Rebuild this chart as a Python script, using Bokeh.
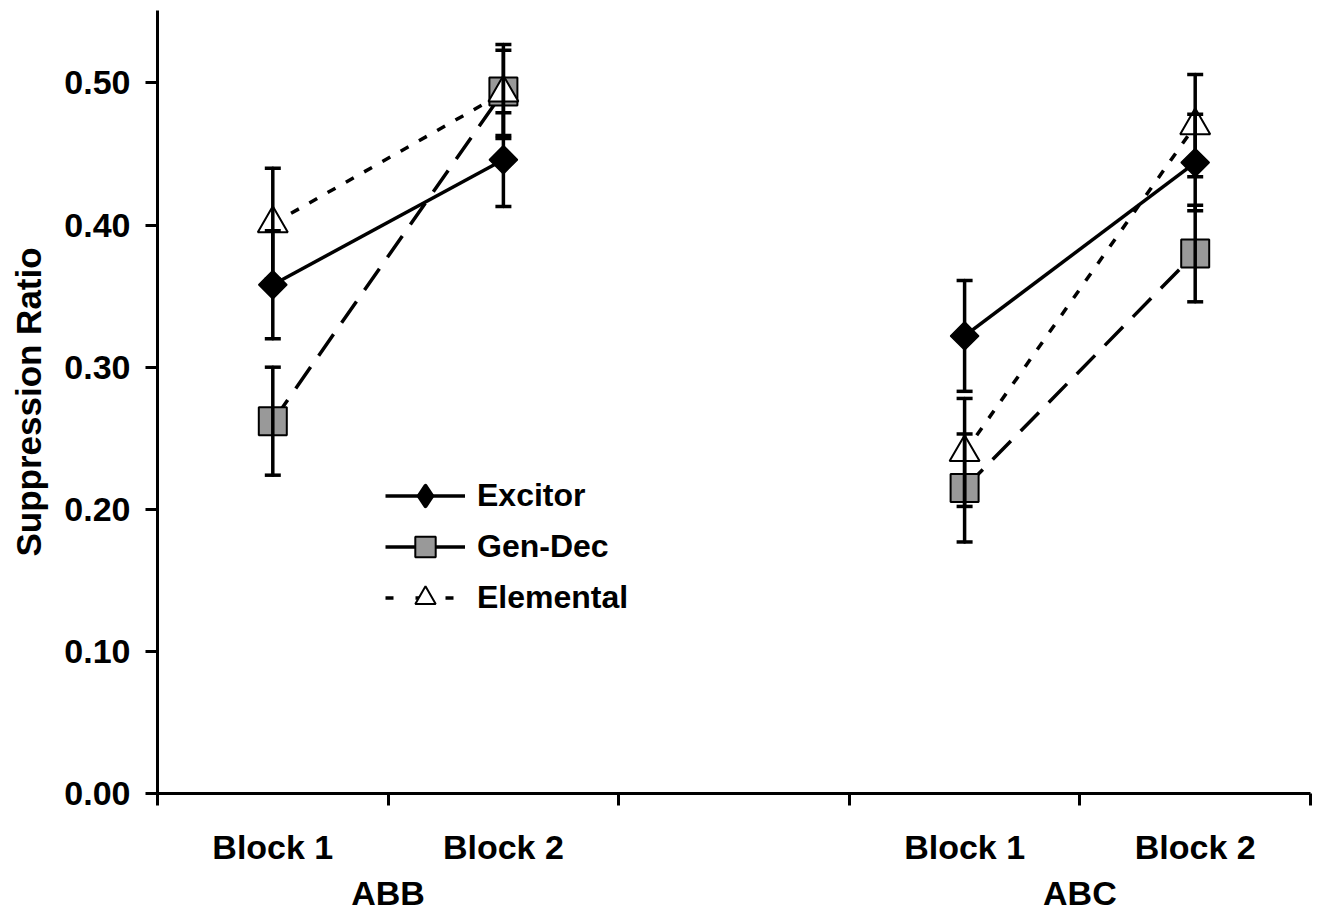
import math
from bokeh.plotting import figure
from bokeh.models import (Range1d, LinearAxis, FixedTicker, NumeralTickFormatter,
                          ColumnDataSource, Whisker, TeeHead, Legend, LegendItem)
from bokeh.embed import file_html
from bokeh.resources import INLINE

# ---------------- data ----------------
conditions = ["ABB", "ABC"]
blocks = ["Block 1", "Block 2"]
y_ticks = [0.0, 0.1, 0.2, 0.3, 0.4, 0.5]

# order: ABB Block 1, ABB Block 2, ABC Block 1, ABC Block 2
excitor = [0.358, 0.446, 0.322, 0.444]
excitor_err = [0.038, 0.033, 0.039, 0.034]
gendec = [0.262, 0.494, 0.215, 0.380]
gendec_err = [0.038, 0.033, 0.038, 0.034]
elemental = [0.401, 0.493, 0.240, 0.470]
elemental_err = [0.039, 0.030, 0.038, 0.036]

FONT = "Liberation Sans"
TXT = "34px"

# slot positions: one empty slot between the two conditions
nb = len(blocks)
xs = [ci * (nb + 1) + bi + 0.5 for ci in range(len(conditions)) for bi in range(nb)]
tick_labels = [b for _ in conditions for b in blocks]
group_centers = [ci * (nb + 1) + nb / 2 for ci in range(len(conditions))]
n_slots = len(conditions) * (nb + 1) - 1

p = figure(width=1320, height=915, x_range=Range1d(0, n_slots), y_range=Range1d(0, 0.551),
           output_backend="svg", toolbar_location=None,
           x_axis_type=None, y_axis_type=None,
           min_border_left=157, min_border_right=10, min_border_top=10, min_border_bottom=122)
p.outline_line_color = None
p.background_fill_color = "white"
p.border_fill_color = "white"

# ---------------- axes ----------------
yaxis = LinearAxis(ticker=FixedTicker(ticks=y_ticks, minor_ticks=[]),
                   formatter=NumeralTickFormatter(format="0.00"),
                   axis_label="Suppression Ratio")
yaxis.axis_line_width = 3
yaxis.axis_line_color = "black"
yaxis.major_tick_line_width = 3
yaxis.major_tick_line_color = "black"
yaxis.major_tick_out = 12
yaxis.major_tick_in = 0
yaxis.minor_tick_line_color = None
yaxis.major_label_standoff = 15
yaxis.major_label_text_font = FONT
yaxis.major_label_text_font_style = "bold"
yaxis.major_label_text_font_size = TXT
yaxis.major_label_text_color = "black"
yaxis.axis_label_text_font = FONT
yaxis.axis_label_text_font_style = "bold"
yaxis.axis_label_text_font_size = "35px"
yaxis.axis_label_text_color = "black"
yaxis.axis_label_standoff = 13
p.add_layout(yaxis, "left")

# block labels under each point, condition labels (second line) under each group
label_map = {float(x): lab for x, lab in zip(xs, tick_labels)}
label_map.update({float(g): "\n" + c for g, c in zip(group_centers, conditions)})
xaxis = LinearAxis(ticker=FixedTicker(ticks=sorted(xs + group_centers),
                                      minor_ticks=list(range(n_slots + 1))),
                   major_label_overrides=label_map)
xaxis.axis_line_width = 3
xaxis.axis_line_color = "black"
xaxis.major_tick_line_color = None
xaxis.major_tick_out = 0
xaxis.major_tick_in = 0
xaxis.minor_tick_line_color = "black"
xaxis.minor_tick_line_width = 3
xaxis.minor_tick_out = 12
xaxis.minor_tick_in = 0
xaxis.major_label_standoff = 22
xaxis.major_label_text_font = FONT
xaxis.major_label_text_font_style = "bold"
xaxis.major_label_text_font_size = TXT
xaxis.major_label_text_color = "black"
xaxis.major_label_text_line_height = 1.23
p.add_layout(xaxis, "below")

# ---------------- series ----------------
series = [
    ("Excitor", excitor, excitor_err, dict(marker="square", size=20, angle=math.pi / 4,
                                           fill_color="black", line_color="black", line_width=1.5), "solid"),
    ("Gen-Dec", gendec, gendec_err, dict(marker="square", size=28, angle=0,
                                         fill_color="#999999", line_color="black", line_width=2), "26 14"),
    ("Elemental", elemental, elemental_err, dict(marker="triangle", size=30, angle=0,
                                                 fill_color="white", line_color="black", line_width=2), "9 12"),
]

# connecting lines (within each condition only)
for name, vals, errs, mk, dash in series:
    gx = [[xs[ci * nb + bi] for bi in range(nb)] for ci in range(len(conditions))]
    gy = [[vals[ci * nb + bi] for bi in range(nb)] for ci in range(len(conditions))]
    p.multi_line(xs=gx, ys=gy, line_color="black", line_width=3.5, line_dash=dash)

# error bars
for name, vals, errs, mk, dash in series:
    src = ColumnDataSource(dict(x=xs, upper=[v + e for v, e in zip(vals, errs)],
                                lower=[v - e for v, e in zip(vals, errs)]))
    w = Whisker(base="x", upper="upper", lower="lower", source=src, dimension="height",
                line_color="black", line_width=3.5, line_cap="round", level="glyph",
                upper_head=TeeHead(size=16, line_color="black", line_width=3.5),
                lower_head=TeeHead(size=16, line_color="black", line_width=3.5))
    p.add_layout(w)

# markers
for name, vals, errs, mk, dash in series:
    src = ColumnDataSource(dict(x=xs, y=vals))
    p.scatter(x="x", y="y", source=src, **mk)

# ---------------- legend ----------------
nan = float("nan")
legend_specs = [
    ("Excitor", dict(marker="diamond", fill_color="black", line_color="black",
                     line_width=4, line_join="round"), "solid"),
    ("Gen-Dec", dict(marker="square", fill_color="#999999", line_color="black", line_width=2), "solid"),
    ("Elemental", dict(marker="triangle", fill_color="white", line_color="black", line_width=2), "8 22"),
]
items = []
for name, mk, dash in legend_specs:
    lr = p.line(x=[nan, nan], y=[nan, nan], line_color="black", line_width=3.5, line_dash=dash)
    mr = p.scatter(x=[nan], y=[nan], **mk)
    items.append(LegendItem(label=name, renderers=[lr, mr]))

legend = Legend(items=items, location=(228, 170), orientation="vertical",
                glyph_width=80, glyph_height=51, label_height=51, spacing=0,
                padding=0, margin=0, label_standoff=12,
                border_line_color=None, background_fill_alpha=0,
                label_text_font=FONT, label_text_font_style="bold",
                label_text_font_size="32px", label_text_color="black",
                label_text_baseline="middle")
p.add_layout(legend)

open("out.html", "w").write(file_html(p, INLINE))
